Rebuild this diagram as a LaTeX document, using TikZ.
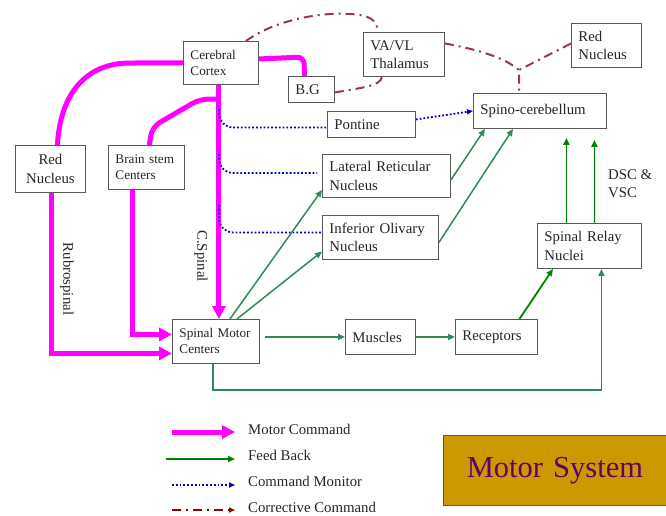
\documentclass[tikz,border=0pt]{standalone}
\usepackage{fontspec}
\setmainfont{Liberation Serif}
\usetikzlibrary{arrows.meta}
\definecolor{magen}{RGB}{255,0,255}
\definecolor{fbgreen}{RGB}{0,128,0}
\definecolor{fbsea}{RGB}{46,139,87}
\definecolor{monblue}{RGB}{0,0,204}
\definecolor{corrpurple}{RGB}{153,51,102}
\definecolor{corrred}{RGB}{153,0,0}
\definecolor{gold}{RGB}{204,153,0}
\definecolor{plum}{RGB}{102,0,102}

\begin{document}
\begin{tikzpicture}[x=1pt,y=-1pt,
    blk/.style={draw=black!65,line width=0.9pt,fill=white,anchor=north west,align=left,inner xsep=7pt,inner ysep=0pt,text=black!85,font=\fontsize{14.8}{18.3}\selectfont},
    sml/.style={font=\fontsize{13.2}{16}\selectfont},
    lbl/.style={inner sep=0pt,text=black!85,font=\fontsize{14.8}{18.3}\selectfont},
    mline/.style={draw=magen,line width=5pt},
    motor/.style={mline,-{Triangle[length=13pt,width=13pt]}},
    fback/.style={draw=fbsea,line width=1.5pt,-{Triangle[length=7pt,width=6pt]}},
    fbackd/.style={draw=fbgreen,line width=1.8pt,-{Triangle[length=7pt,width=6pt]}},
    monitor/.style={draw=monblue,line width=1.8pt,dotted},
    corrective/.style={draw=corrpurple,line width=2pt,dash pattern=on 9pt off 5pt on 2pt off 5pt}]
            \useasboundingbox (0,0) rectangle (666,515);

            \node (cc) at (183,41) [blk,sml,text width=61pt,minimum height=43pt] {Cerebral\\Cortex};
            \node (bg) at (288,76) [blk,text width=32pt,minimum height=26pt] {B.G};
            \node (rnl) at (15,145) [blk,align=center,text width=56pt,minimum height=47pt] {Red\\Nucleus};
            \node (bs) at (108,145) [blk,sml,text width=62pt,minimum height=44pt] {Brain stem\\Centers};
            \node (th) at (363,32) [blk,text width=67pt,minimum height=44pt] {VA/VL\\Thalamus};
            \node (rnr) at (571,23) [blk,text width=56pt,minimum height=44pt] {Red\\Nucleus};
            \node (sc) at (473,93) [blk,text width=119pt,minimum height=35pt] {Spino-cerebellum};
            \node (pn) at (327,111) [blk,text width=74pt,minimum height=26pt] {Pontine};
            \node (lr) at (322,154) [blk,text width=114pt,minimum height=43pt] {Lateral Reticular\\Nucleus};
            \node (io) at (322,215) [blk,text width=102pt,minimum height=44pt] {Inferior Olivary\\Nucleus};
            \node (sr) at (537,223) [blk,text width=90pt,minimum height=45pt] {Spinal Relay\\Nuclei};
            \node (sm) at (172,319) [blk,sml,text width=73pt,minimum height=44pt] {Spinal Motor\\Centers};
            \node (mu) at (345,319) [blk,text width=56pt,minimum height=35pt] {Muscles};
            \node (re) at (455,319) [blk,text width=68pt,minimum height=35pt] {Receptors};
            \node (ms) at (443,435) [blk,fill=gold,align=center,text width=209pt,minimum height=70pt,text=plum,font=\fontsize{30.5}{36}\selectfont] {Motor System};

            \node (rb) at (67,279) [lbl,rotate=-90] {Rubrospinal};
            \node (cs) at (201,256) [lbl,rotate=-90] {C.Spinal};
            \node (dv) at (608,169) [lbl,anchor=north west,align=left] {DSC \&\\VSC};

            \coordinate (k1) at (219,99);
            \coordinate (d1) at (219,109);
            \coordinate (d2) at (219,154);
            \coordinate (d3) at (219,205);
            \coordinate (jn) at (519,70);

            \draw[mline] (cc.west) -- (130,63) .. controls (85,63) and (60,95) .. ([xshift=7pt]rnl.north);
            \draw[motor] ([xshift=1pt]rnl.south) |- ([yshift=-12pt]sm.west);
            \draw[mline,rounded corners=9pt] (k1) -- (200,99) -- (152,127) -- ([xshift=3pt]bs.north);
            \draw[motor] ([xshift=-14pt]bs.south) |- ([yshift=7pt]sm.west);
            \draw[motor] ([xshift=-2pt]cc.south) -- ([xshift=-2pt]cc.south |- sm.north);
            \draw[mline,rounded corners=7pt] ([yshift=4pt]cc.east) -- (304,57) -- ([xshift=-7pt]bg.north);

            \draw[monitor,rounded corners=14pt] (d1) |- ([yshift=-3pt]pn.west);
            \draw[monitor,rounded corners=14pt,shorten >=5pt] (d2) |- ([yshift=3pt]lr.west);
            \draw[monitor,rounded corners=14pt] (d3) |- ([yshift=5pt]io.west);
            \draw[monitor,-{Triangle[length=6pt,width=5pt]}] ([yshift=5pt]pn.east) -- (sc.west);

            \draw[corrective] ([xshift=-13pt]cc.north east) .. controls (275,20) and (320,12) .. (350,14) .. controls (370,15) and (377,20) .. ([xshift=-26pt]th.north);
            \draw[corrective] ([yshift=-3pt]bg.east) .. controls (360,88) and (381,86) .. ([xshift=-22pt]th.south);
            \draw[corrective] ([yshift=11pt]th.east) .. controls (480,50) and (505,58) .. (jn) -- (jn |- sc.north);
            \draw[corrective] ([yshift=2pt]rnr.west) -- (jn);

            \draw[fback] ([xshift=14pt]sm.north) -- ([yshift=-14pt]lr.west);
            \draw[fback] ([xshift=21pt]sm.north) -- ([yshift=-14pt]io.west);
            \draw[fback] ([yshift=-4pt]lr.east) -- ([xshift=12pt]sc.south west);
            \draw[fback] ([yshift=-5pt]io.east) -- ([xshift=40pt]sc.south west);
            \draw[fback] ([xshift=5pt]sm.east |- mu.west) -- (mu.west);
            \draw[fback] (mu.east) -- (re.west);
            \draw[fback] ([xshift=-3pt]sm.south) -- ++(0,26) -| ([xshift=12pt]sr.south);
            \draw[fbackd] ([xshift=23pt]re.north) -- ([xshift=16pt]sr.south west);
            \draw[fbackd,shorten >=9pt] ([xshift=-23pt]sr.north) -- ([xshift=-23pt]sr.north |- sc.south);
            \draw[fbackd,shorten >=11pt] ([xshift=5pt]sr.north) -- ([xshift=5pt]sr.north |- sc.south);

            \coordinate (l1) at (172,432);
            \coordinate (l2) at (166,459);
            \coordinate (l3) at (172,485);
            \coordinate (l4) at (172,510);
            \coordinate (e1) at (235,432);
            \coordinate (e2) at (235,459);
            \coordinate (e3) at (235,485);
            \coordinate (e4) at (235,510);
            \node (t1) at (248,434) [lbl,anchor=base west] {Motor Command};
            \node (t2) at (248,460) [lbl,anchor=base west] {Feed Back};
            \node (t3) at (248,486) [lbl,anchor=base west] {Command Monitor};
            \node (t4) at (248,512) [lbl,anchor=base west] {Corrective Command};
            \draw[motor] (l1) -- (e1);
            \draw[fbackd] (l2) -- (e2);
            \draw[monitor,-{Triangle[length=6pt,width=5pt]}] (l3) -- (e3);
            \draw[corrective,draw=corrred,-{Triangle[length=6pt,width=5pt]}] (l4) -- (e4);

        \end{tikzpicture}
\end{document}
